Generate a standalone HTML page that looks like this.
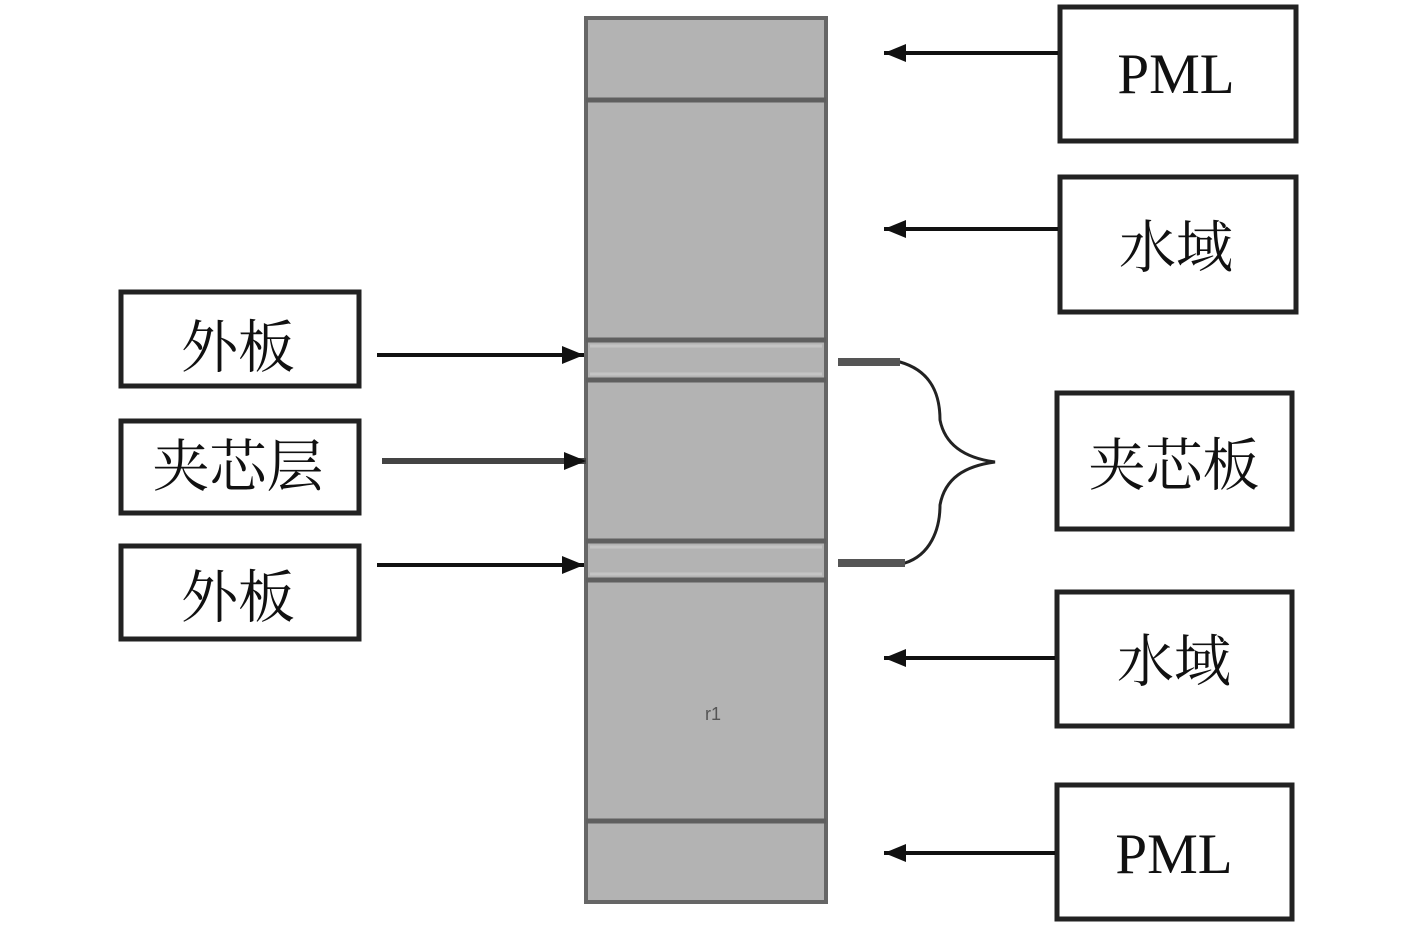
<!DOCTYPE html>
<html><head><meta charset="utf-8"><style>
body{margin:0;background:#fff;}
svg text{font-family:"Liberation Serif","Noto Serif CJK SC",serif;font-size:57px;fill:#111;}
</style></head><body>
<svg width="1417" height="925" viewBox="0 0 1417 925" xmlns="http://www.w3.org/2000/svg">
<defs>
<marker id="b" markerWidth="24" markerHeight="22" refX="22" refY="11" orient="auto" markerUnits="userSpaceOnUse"><path d="M0,2 L22,11 L0,20 Z" fill="#111"/></marker></defs>
<rect x="586" y="18" width="240" height="884" fill="#b3b3b3" stroke="#666" stroke-width="4"/>
<g stroke="#5f5f5f" stroke-width="5">
<line x1="586" y1="100" x2="826" y2="100"/>
<line x1="586" y1="340" x2="826" y2="340"/>
<line x1="586" y1="380" x2="826" y2="380"/>
<line x1="586" y1="541" x2="826" y2="541"/>
<line x1="586" y1="580" x2="826" y2="580"/>
<line x1="586" y1="821" x2="826" y2="821"/>
</g>
<g stroke="#c4c4c4" stroke-width="3">
<line x1="590" y1="346" x2="822" y2="346"/><line x1="590" y1="374" x2="822" y2="374"/>
<line x1="590" y1="547" x2="822" y2="547"/><line x1="590" y1="574" x2="822" y2="574"/>
</g>
<text x="705" y="720" style="font-size:18px;fill:#555;font-family:'Liberation Sans',sans-serif">r1</text>
<g fill="#fff" stroke="#222" stroke-width="5">
<rect x="1060" y="7" width="236" height="134"/>
<rect x="1060" y="177" width="236" height="135"/>
<rect x="1057" y="393" width="235" height="136"/>
<rect x="1057" y="592" width="235" height="134"/>
<rect x="1057" y="785" width="235" height="134"/>
<rect x="121" y="292" width="238" height="94"/>
<rect x="121" y="421" width="238" height="92"/>
<rect x="121" y="546" width="238" height="93"/>
</g>
<g text-anchor="middle">
<text x="1176" y="93">PML</text>
<text x="1176" y="267">水域</text>
<text x="1174" y="485">夹芯板</text>
<text x="1174" y="681">水域</text>
<text x="1174" y="873">PML</text>
<text x="238" y="367">外板</text>
<text x="238" y="486">夹芯层</text>
<text x="238" y="617">外板</text>
</g>
<g stroke="#111" stroke-width="4">
<line x1="1058" y1="53" x2="884" y2="53" marker-end="url(#b)"/>
<line x1="1058" y1="229" x2="884" y2="229" marker-end="url(#b)"/>
<line x1="1055" y1="658" x2="884" y2="658" marker-end="url(#b)"/>
<line x1="1055" y1="853" x2="884" y2="853" marker-end="url(#b)"/>
<line x1="377" y1="355" x2="584" y2="355" marker-end="url(#b)"/>
<line x1="382" y1="461" x2="586" y2="461" stroke="#444" stroke-width="6" marker-end="url(#b)"/>
<line x1="377" y1="565" x2="584" y2="565" marker-end="url(#b)"/>
</g>
<path d="M838,362 L900,362 C935,372 940,400 940,420 C945,445 965,458 995,462 C965,466 945,478 940,505 C940,530 930,555 905,563 L838,563" fill="none" stroke="#222" stroke-width="3"/>
<line x1="838" y1="362" x2="900" y2="362" stroke="#555" stroke-width="8"/>
<line x1="838" y1="563" x2="905" y2="563" stroke="#555" stroke-width="8"/>
</svg>
</body></html>
